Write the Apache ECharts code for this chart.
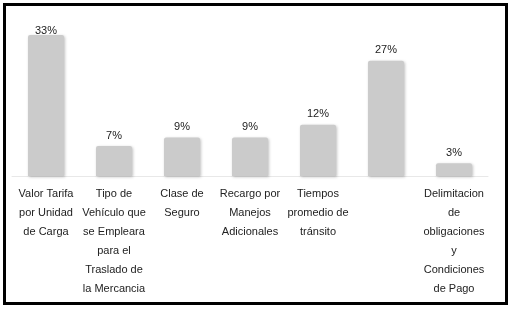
<!DOCTYPE html>
<html>
<head>
<meta charset="utf-8">
<script src="https://cdn.jsdelivr.net/npm/echarts@6/dist/echarts.min.js"></script>
<style>
  html, body { margin: 0; padding: 0; background: #fff; }
  #chart { width: 515px; height: 309px; }
</style>
</head>
<body>
<div id="chart"></div>
<script>
// categories (manually wrapped like the original)
const categories = [
  'Valor Tarifa\npor Unidad\nde Carga',
  'Tipo de\nVehículo que\nse Empleara\npara el\nTraslado de\nla Mercancia',
  'Clase de\nSeguro',
  'Recargo por\nManejos\nAdicionales',
  'Tiempos\npromedio de\ntránsito',
  '',
  'Delimitacion\nde\nobligaciones\ny\nCondiciones\nde Pago'
]
const values = [33, 7, 9, 9, 12, 27, 3]

const chart = echarts.init(document.getElementById('chart'))

const option = {
  animation: false,
  graphic: [
    {
      type: 'rect',
      shape: { x: 4.5, y: 4.5, width: 502, height: 299 },
      style: { fill: 'none', stroke: '#000', lineWidth: 3 }
    }
  ],
  grid: {
    left: 12,
    right: 27,
    top: 26.5,
    bottom: 133
  },
  xAxis: {
    type: 'category',
    data: categories,
    axisTick: { show: false },
    axisLine: { lineStyle: { color: '#e8e8e8', width: 1 } },
    axisLabel: {
      interval: 0,
      margin: 8,
      color: '#222',
      fontFamily: 'Liberation Sans, Arial, sans-serif',
      fontSize: 11,
      lineHeight: 19,
      verticalAlign: 'top'
    }
  },
  yAxis: {
    type: 'value',
    min: 0,
    max: 35,
    show: false,
    splitLine: { show: false }
  },
  series: [
    {
      type: 'bar',
      barWidth: 36,
      data: values.map((v, i) => ({
        value: v,
        label: i === 0 ? { distance: -1 } : undefined
      })),
      itemStyle: {
        color: '#cbcbcb',
        borderRadius: [2, 2, 0, 0],
        shadowColor: 'rgba(0,0,0,0.25)',
        shadowBlur: 3,
        shadowOffsetX: 1,
        shadowOffsetY: 1
      },
      label: {
        show: true,
        position: 'top',
        distance: 5,
        formatter: '{c}%',
        color: '#222',
        fontFamily: 'Liberation Sans, Arial, sans-serif',
        fontSize: 11
      }
    }
  ]
}

chart.setOption(option)
</script>
</body>
</html>
